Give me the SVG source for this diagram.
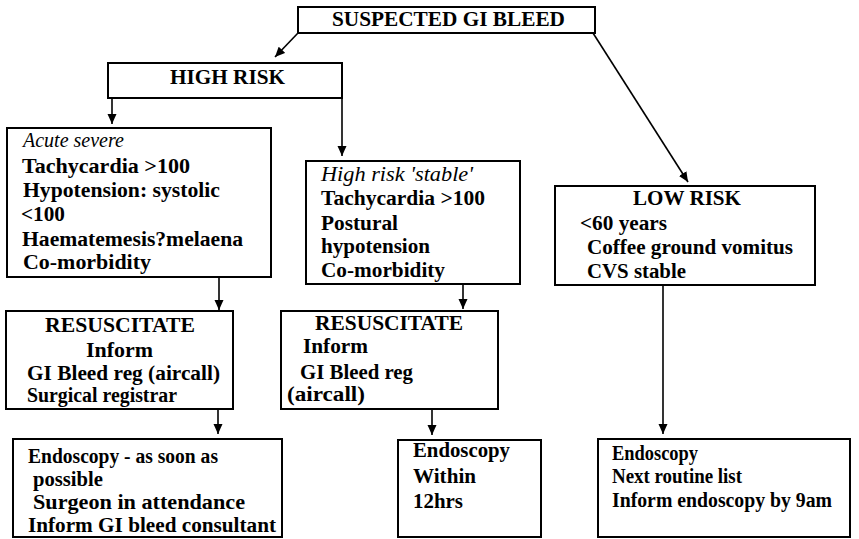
<svg xmlns="http://www.w3.org/2000/svg" width="859" height="539" viewBox="0 0 859 539" font-family="'Liberation Serif', 'Times New Roman', Tinos, 'DejaVu Serif', serif">
<style>
.box{fill:#fff;stroke:#000;stroke-width:2}
text{font-family:'Liberation Serif','Times New Roman',Tinos,'DejaVu Serif',serif;font-size:20px;fill:#000}
.t{font-weight:bold}
.i{font-style:italic}
.conn{stroke:#000;stroke-width:1.6;fill:none;marker-end:url(#ah)}
</style>
<defs>
<marker id="ah" markerUnits="userSpaceOnUse" markerWidth="10" markerHeight="10" refX="10" refY="5" orient="auto" viewBox="0 0 10 10">
<path d="M0,0.5 L10,5 L0,9.5 z" fill="#000"/>
</marker>
</defs>
<rect width="859" height="539" fill="#fff"/>
<g id="connectors">
<line class="conn" x1="298" y1="33" x2="275" y2="57"/>
<line class="conn" x1="593" y1="33" x2="688" y2="182"/>
<line class="conn" x1="112" y1="98" x2="112" y2="124"/>
<line class="conn" x1="342" y1="98" x2="342" y2="156"/>
<line class="conn" x1="219" y1="277" x2="219" y2="310"/>
<line class="conn" x1="463" y1="284" x2="463" y2="309"/>
<line class="conn" x1="218" y1="409" x2="218" y2="434"/>
<line class="conn" x1="432" y1="409" x2="432" y2="435"/>
<line class="conn" x1="663" y1="285" x2="663" y2="434"/>
</g>
<g id="suspected">
<rect class="box" x="298" y="7" width="297" height="26"/>
<text class="t" x="332" y="26" textLength="233" lengthAdjust="spacingAndGlyphs">SUSPECTED GI BLEED</text>
</g>
<g id="high-risk">
<rect class="box" x="108" y="63" width="234" height="35"/>
<text class="t" x="170" y="84" textLength="115" lengthAdjust="spacingAndGlyphs">HIGH RISK</text>
</g>
<g id="acute-severe">
<rect class="box" x="7" y="128" width="264" height="149"/>
<text class="i" x="23" y="147">Acute severe</text>
<text class="t" x="22" y="173" textLength="168" lengthAdjust="spacingAndGlyphs">Tachycardia &gt;100</text>
<text class="t" x="23" y="197" textLength="197" lengthAdjust="spacingAndGlyphs">Hypotension: systolic</text>
<text class="t" x="21" y="221" textLength="44" lengthAdjust="spacingAndGlyphs">&lt;100</text>
<text class="t" x="22" y="246" textLength="221" lengthAdjust="spacingAndGlyphs">Haematemesis?melaena</text>
<text class="t" x="23" y="269" textLength="128" lengthAdjust="spacingAndGlyphs">Co-morbidity</text>
</g>
<g id="high-risk-stable">
<rect class="box" x="306" y="161" width="214" height="123"/>
<text class="i" x="321" y="181" textLength="152" lengthAdjust="spacingAndGlyphs">High risk 'stable'</text>
<text class="t" x="321" y="205" textLength="164" lengthAdjust="spacingAndGlyphs">Tachycardia &gt;100</text>
<text class="t" x="321" y="230" textLength="77" lengthAdjust="spacingAndGlyphs">Postural</text>
<text class="t" x="321" y="253" textLength="109" lengthAdjust="spacingAndGlyphs">hypotension</text>
<text class="t" x="321" y="277" textLength="124" lengthAdjust="spacingAndGlyphs">Co-morbidity</text>
</g>
<g id="low-risk">
<rect class="box" x="555" y="186" width="260" height="99"/>
<text class="t" x="633" y="205" textLength="108" lengthAdjust="spacingAndGlyphs">LOW RISK</text>
<text class="t" x="580" y="230" textLength="87" lengthAdjust="spacingAndGlyphs">&lt;60 years</text>
<text class="t" x="587" y="254" textLength="206" lengthAdjust="spacingAndGlyphs">Coffee ground vomitus</text>
<text class="t" x="587" y="278" textLength="99" lengthAdjust="spacingAndGlyphs">CVS stable</text>
</g>
<g id="resuscitate-1">
<rect class="box" x="6" y="311" width="227" height="98"/>
<text class="t" x="45" y="332" textLength="150" lengthAdjust="spacingAndGlyphs">RESUSCITATE</text>
<text class="t" x="86" y="357" textLength="67" lengthAdjust="spacingAndGlyphs">Inform</text>
<text class="t" x="27" y="380" textLength="193" lengthAdjust="spacingAndGlyphs">GI Bleed reg (aircall)</text>
<text class="t" x="27" y="402" textLength="150" lengthAdjust="spacingAndGlyphs">Surgical registrar</text>
</g>
<g id="resuscitate-2">
<rect class="box" x="281" y="311" width="217" height="98"/>
<text class="t" x="315" y="330" textLength="148" lengthAdjust="spacingAndGlyphs">RESUSCITATE</text>
<text class="t" x="303" y="353" textLength="65" lengthAdjust="spacingAndGlyphs">Inform</text>
<text class="t" x="300" y="379" textLength="113" lengthAdjust="spacingAndGlyphs">GI Bleed reg</text>
<text class="t" x="287" y="401" textLength="78" lengthAdjust="spacingAndGlyphs">(aircall)</text>
</g>
<g id="endoscopy-asap">
<rect class="box" x="13" y="439" width="269" height="98"/>
<text class="t" x="28" y="463" textLength="190" lengthAdjust="spacingAndGlyphs">Endoscopy - as soon as</text>
<text class="t" x="33" y="486" textLength="70" lengthAdjust="spacingAndGlyphs">possible</text>
<text class="t" x="33" y="509" textLength="212" lengthAdjust="spacingAndGlyphs">Surgeon in attendance</text>
<text class="t" x="28" y="532" textLength="248" lengthAdjust="spacingAndGlyphs">Inform GI bleed consultant</text>
</g>
<g id="endoscopy-12hrs">
<rect class="box" x="398" y="440" width="143" height="97"/>
<text class="t" x="413" y="457" textLength="97" lengthAdjust="spacingAndGlyphs">Endoscopy</text>
<text class="t" x="413" y="483" textLength="63" lengthAdjust="spacingAndGlyphs">Within</text>
<text class="t" x="413" y="508" textLength="50" lengthAdjust="spacingAndGlyphs">12hrs</text>
</g>
<g id="endoscopy-routine">
<rect class="box" x="598" y="439" width="252" height="98"/>
<text class="t" x="612" y="460" textLength="86" lengthAdjust="spacingAndGlyphs">Endoscopy</text>
<text class="t" x="612" y="483" textLength="130" lengthAdjust="spacingAndGlyphs">Next routine list</text>
<text class="t" x="612" y="507" textLength="220" lengthAdjust="spacingAndGlyphs">Inform endoscopy by 9am</text>
</g>
</svg>
